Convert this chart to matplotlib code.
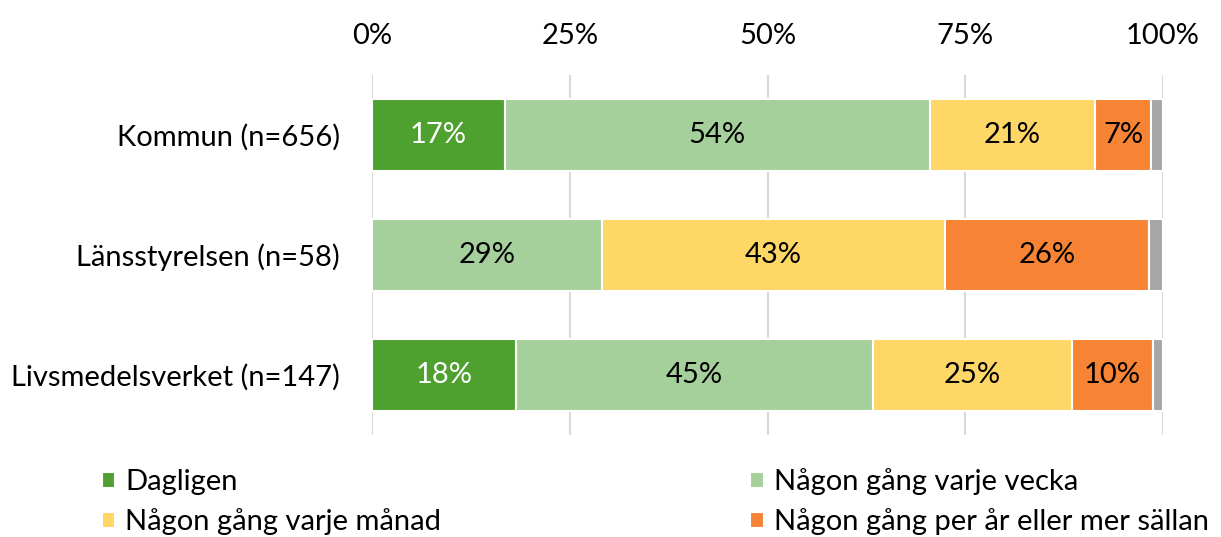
import matplotlib.pyplot as plt
import numpy as np

plt.rcParams['font.family'] = ['Lato', 'DejaVu Sans']

categories = ["Kommun (n=656)", "Länsstyrelsen (n=58)", "Livsmedelsverket (n=147)"]
series_names = ["Dagligen", "Någon gång varje vecka", "Någon gång varje månad",
                "Någon gång per år eller mer sällan", "Vet ej"]
dagligen = [16.8, 0.0, 18.2]
vecka = [53.7, 29.1, 45.1]
manad = [20.9, 43.3, 25.2]
per_ar = [7.1, 25.8, 10.2]
vet_ej = [1.5, 1.8, 1.3]
labels = [["17%", "", "18%"], ["54%", "29%", "45%"], ["21%", "43%", "25%"],
          ["7%", "26%", "10%"], ["", "", ""]]
tick_vals = [0, 25, 50, 75, 100]
tick_labels = ["0%", "25%", "50%", "75%", "100%"]

colors = ["#4ea12f", "#a6d09b", "#fed766", "#f68434", "#a6a6a6"]
text_colors = ["white", "black", "black", "black", "black"]
fs = 21

fig = plt.figure(figsize=(12.21, 5.37), dpi=100)
ax = fig.add_axes([0.3047, 0.19, 0.6478, 0.67])

y = np.arange(len(categories))
left = np.zeros(len(categories))
bars = []
for i, vals in enumerate([dagligen, vecka, manad, per_ar, vet_ej]):
    vals = np.array(vals)
    b = ax.barh(y, vals, left=left, height=0.6, color=colors[i],
                edgecolor="white", linewidth=1.5, label=series_names[i])
    bars.append(b)
    for j, v in enumerate(vals):
        if labels[i][j]:
            ax.text(left[j] + v / 2, y[j], labels[i][j], ha="center", va="center",
                    fontsize=fs, color=text_colors[i])
    left += vals

ax.set_xlim(0, 100)
ax.set_ylim(len(categories) - 0.5, -0.5)
ax.set_yticks(y)
ax.set_yticklabels(categories, fontsize=fs)
ax.xaxis.tick_top()
ax.set_xticks(tick_vals)
ax.set_xticklabels(tick_labels, fontsize=fs)
ax.tick_params(axis="y", length=0, pad=23)
ax.tick_params(axis="x", length=0, pad=19)
ax.grid(axis="x", color="#d9d9d9", linewidth=1.5)
ax.set_axisbelow(True)
for s in ax.spines.values():
    s.set_visible(False)

order = [0, 2, 1, 3]
fig.legend([bars[k] for k in order], [series_names[k] for k in order],
           loc="lower left", bbox_to_anchor=(0.062, -0.046), ncol=2, frameon=False,
           fontsize=fs, handlelength=0.45, handleheight=0.45, handletextpad=0.35,
           columnspacing=10.6, labelspacing=0.45)

fig.savefig("out.png", dpi=100)
